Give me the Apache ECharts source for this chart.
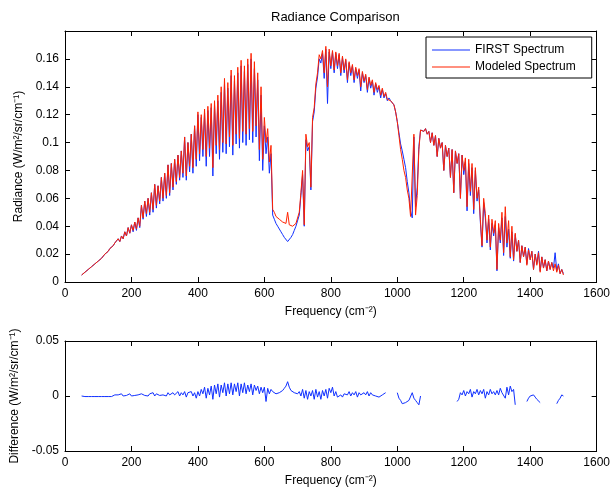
<!DOCTYPE html>
<html>
<head>
<meta charset="utf-8">
<script src="https://cdn.jsdelivr.net/npm/echarts@6/dist/echarts.min.js"></script>
<style>
html, body { margin: 0; padding: 0; background: #fff; }
#main { width: 613px; height: 493px; }
</style>
</head>
<body>
<div id="main"></div>
<script>
// frequency grid, cm^-1 (step 5)
var freq = [
    50,55,60,65,70,75,80,85,90,95,
    100,105,110,115,120,125,130,135,140,145,150,155,160,165,170,175,180,185,190,195,
    200,205,210,215,220,225,230,235,240,245,250,255,260,265,270,275,280,285,290,295,
    300,305,310,315,320,325,330,335,340,345,350,355,360,365,370,375,380,385,390,395,
    400,405,410,415,420,425,430,435,440,445,450,455,460,465,470,475,480,485,490,495,
    500,505,510,515,520,525,530,535,540,545,550,555,560,565,570,575,580,585,590,595,
    600,605,610,615,620,625,630,635,640,645,650,655,660,665,670,675,680,685,690,695,
    700,705,710,715,720,725,730,735,740,745,750,755,760,765,770,775,780,785,790,795,
    800,805,810,815,820,825,830,835,840,845,850,855,860,865,870,875,880,885,890,895,
    900,905,910,915,920,925,930,935,940,945,950,955,960,965,970,975,980,985,990,995,
    1000,1005,1010,1015,1020,1025,1030,1035,1040,1045,1050,1055,1060,1065,1070,1075,1080,1085,1090,1095,
    1100,1105,1110,1115,1120,1125,1130,1135,1140,1145,1150,1155,1160,1165,1170,1175,1180,1185,1190,1195,
    1200,1205,1210,1215,1220,1225,1230,1235,1240,1245,1250,1255,1260,1265,1270,1275,1280,1285,1290,1295,
    1300,1305,1310,1315,1320,1325,1330,1335,1340,1345,1350,1355,1360,1365,1370,1375,1380,1385,1390,1395,
    1400,1405,1410,1415,1420,1425,1430,1435,1440,1445,1450,1455,1460,1465,1470,1475,1480,1485,1490,1495,
    1500
];

// measured spectrum (FIRST)
var firstSpectrum = [
    0.005,0.006,0.007,0.008,0.009,0.010,0.011,0.012,0.013,0.014,
    0.015,0.016,0.017,0.018,0.020,0.021,0.022,0.024,0.025,0.026,0.028,0.027,0.031,0.029,0.033,0.031,0.036,0.033,0.039,0.035,
    0.041,0.036,0.043,0.037,0.046,0.039,0.055,0.045,0.058,0.047,0.060,0.048,0.064,0.050,0.070,0.053,0.069,0.056,0.075,0.058,
    0.078,0.060,0.084,0.062,0.085,0.066,0.088,0.070,0.091,0.073,0.094,0.075,0.104,0.073,0.100,0.079,0.106,0.078,0.112,0.083,
    0.120,0.087,0.118,0.090,0.121,0.083,0.123,0.090,0.125,0.076,0.127,0.092,0.130,0.088,0.136,0.093,0.142,0.092,0.139,0.097,
    0.148,0.091,0.144,0.099,0.150,0.096,0.155,0.100,0.151,0.098,0.156,0.102,0.160,0.100,0.153,0.104,0.145,0.087,0.134,0.080,
    0.112,0.092,0.104,0.078,0.092,0.048,0.045,0.042,0.040,0.038,0.036,0.034,0.032,0.031,0.029,0.030,0.032,0.034,0.037,0.040,
    0.041,0.048,0.062,0.077,0.040,0.102,0.094,0.097,0.066,0.115,0.122,0.139,0.147,0.160,0.157,0.164,0.146,0.167,0.128,0.165,
    0.153,0.165,0.150,0.164,0.153,0.163,0.148,0.161,0.150,0.159,0.143,0.157,0.148,0.155,0.143,0.153,0.146,0.152,0.137,0.150,
    0.143,0.148,0.136,0.146,0.139,0.144,0.134,0.142,0.136,0.140,0.132,0.138,0.132,0.135,0.130,0.132,0.130,0.129,0.127,0.122,
    0.115,0.107,0.099,0.094,0.088,0.082,0.072,0.064,0.051,0.046,0.104,0.054,0.068,0.097,0.109,0.110,0.108,0.110,0.106,0.108,
    0.100,0.107,0.098,0.105,0.090,0.103,0.096,0.100,0.080,0.098,0.090,0.096,0.075,0.095,0.064,0.094,0.085,0.092,0.060,0.091,
    0.077,0.086,0.051,0.085,0.062,0.082,0.049,0.080,0.058,0.066,0.043,0.025,0.057,0.046,0.028,0.045,0.023,0.042,0.033,0.041,
    0.008,0.039,0.028,0.046,0.019,0.047,0.025,0.038,0.017,0.036,0.015,0.034,0.022,0.030,0.014,0.026,0.018,0.025,0.013,0.024,
    0.016,0.022,0.009,0.020,0.013,0.022,0.008,0.018,0.010,0.016,0.008,0.015,0.009,0.014,0.010,0.021,0.008,0.013,0.006,0.009,
    0.006
];

// modeled spectrum
var modeledSpectrum = [
    0.005,0.006,0.007,0.008,0.009,0.010,0.011,0.012,0.013,0.014,
    0.015,0.016,0.017,0.018,0.020,0.021,0.022,0.024,0.025,0.026,0.028,0.027,0.031,0.029,0.033,0.031,0.036,0.033,0.039,0.035,
    0.041,0.037,0.043,0.038,0.046,0.040,0.055,0.046,0.058,0.049,0.060,0.050,0.064,0.052,0.070,0.055,0.069,0.058,0.075,0.060,
    0.078,0.062,0.084,0.064,0.085,0.068,0.088,0.072,0.091,0.075,0.094,0.078,0.104,0.076,0.100,0.083,0.106,0.082,0.112,0.088,
    0.122,0.092,0.120,0.095,0.124,0.090,0.126,0.096,0.128,0.082,0.130,0.098,0.134,0.095,0.140,0.100,0.146,0.099,0.143,0.104,
    0.152,0.098,0.148,0.106,0.154,0.103,0.159,0.108,0.155,0.106,0.160,0.110,0.164,0.108,0.158,0.112,0.150,0.095,0.140,0.088,
    0.118,0.100,0.110,0.086,0.098,0.052,0.050,0.047,0.046,0.045,0.044,0.043,0.042,0.042,0.050,0.041,0.040,0.040,0.041,0.042,
    0.043,0.050,0.064,0.080,0.041,0.106,0.097,0.100,0.068,0.118,0.125,0.142,0.150,0.163,0.160,0.166,0.150,0.169,0.140,0.167,
    0.155,0.166,0.152,0.165,0.155,0.164,0.150,0.162,0.152,0.160,0.145,0.158,0.150,0.156,0.145,0.154,0.148,0.153,0.140,0.151,
    0.144,0.149,0.138,0.147,0.141,0.145,0.136,0.143,0.138,0.141,0.134,0.139,0.133,0.136,0.131,0.132,0.130,0.129,0.127,0.122,
    0.115,0.105,0.095,0.088,0.080,0.075,0.066,0.060,0.047,0.046,0.106,0.048,0.062,0.095,0.109,0.110,0.108,0.110,0.106,0.108,
    0.100,0.107,0.098,0.105,0.090,0.103,0.096,0.100,0.080,0.098,0.090,0.096,0.075,0.095,0.064,0.094,0.085,0.092,0.060,0.091,
    0.080,0.089,0.054,0.088,0.065,0.085,0.052,0.082,0.060,0.068,0.045,0.026,0.060,0.049,0.030,0.048,0.025,0.045,0.035,0.044,
    0.009,0.042,0.030,0.050,0.021,0.054,0.028,0.044,0.018,0.040,0.016,0.035,0.022,0.030,0.014,0.026,0.018,0.025,0.012,0.023,
    0.016,0.022,0.009,0.020,0.012,0.021,0.007,0.018,0.010,0.016,0.008,0.015,0.009,0.014,0.008,0.013,0.007,0.012,0.006,0.009,
    0.005
];

// difference panel (null = no data)
var difference = [
    0,0,-0.0005,-0.0005,-0.0005,-0.0005,-0.0005,-0.0005,-0.0005,-0.0005,
    -0.0005,-0.0005,-0.0005,-0.0005,-0.0005,-0.0005,-0.0005,-0.0005,-0.0005,0,0.001,0,0.001,0.0005,0.002,0,0.001,0.0005,0.001,0.002,
    0,0.001,0.0005,0.002,0.001,0,0.002,0.001,0.0005,0.002,0,0.002,0.001,0.003,0,0.002,0.001,0.0005,0.002,0.001,
    0.002,0,0.003,0.001,0.0005,0.003,0.001,0.002,0.004,0,0.003,0.001,0.004,-0.001,0.003,0.002,0.004,0,0.003,-0.002,
    0.004,0,0.006,0.002,0.008,-0.002,0.007,0.001,0.009,-0.003,0.010,0.002,0.011,-0.001,0.010,0.003,0.012,0,0.011,0.002,
    0.012,0.001,0.011,0.004,0.012,0,0.011,0.003,0.012,0.002,0.010,0.004,0.011,0.001,0.010,0.005,0.009,0.002,0.008,0.003,
    0.008,-0.005,0.007,0.002,0.006,0.004,0.003,0.002,0.002,0.003,0.004,0.005,0.007,0.009,0.013,0.008,0.005,0.004,0.003,0.002,
    0.002,0.004,0,0.006,-0.002,0.005,-0.003,0.004,0,0.005,-0.003,0.006,-0.001,0.004,-0.003,0.005,0,0.006,-0.002,0.007,
    0.003,0.008,0,0.004,-0.001,0.0005,0.001,-0.001,0.002,0.003,0.001,0.004,0,0.003,0.001,0.004,-0.001,0.003,0.001,0.002,
    0.003,0.001,0.004,0,0.003,0.001,0.002,0,0.001,-0.001,0,0.001,0,0.003,null,null,null,null,null,null,
    0.003,-0.002,-0.004,-0.007,-0.008,-0.006,-0.007,-0.004,-0.005,0.003,-0.002,-0.004,-0.006,-0.008,0,null,null,null,null,null,
    null,null,null,null,null,null,null,null,null,null,null,null,null,null,null,null,-0.005,-0.003,0.003,0.001,
    0.005,0,0.004,0.002,0.006,-0.001,0.004,0.002,0.006,0.001,0.005,0.002,0.006,-0.002,0.004,0.001,0.006,0.002,0.004,0.001,
    0.005,0.001,0.007,0.003,0.004,-0.002,0.008,0.001,0.009,0.004,0.006,-0.008,null,null,null,null,null,null,-0.005,-0.002,
    0,0.001,0.001,-0.001,-0.003,-0.004,-0.006,null,null,null,null,null,null,null,null,null,-0.007,-0.004,-0.002,0.001,
    0
];

var radianceTicks = [0, 0.02, 0.04, 0.06, 0.08, 0.1, 0.12, 0.14, 0.16];

function pairs(ys) {
    return freq.map(function (f, i) { return [f, ys[i]]; });
}

var font = 'Liberation Sans, Arial, Helvetica, sans-serif';
var black = '#000';

function xAx(grid, pos, withLabel) {
    return {
        type: 'value', gridIndex: grid, position: pos,
        min: 0, max: 1600, interval: 200,
        name: withLabel ? 'Frequency (cm⁻²)' : '',
        nameLocation: 'middle', nameGap: 24,
        nameTextStyle: { color: black, fontSize: 12, fontFamily: font },
        axisLine: { show: true, onZero: false, lineStyle: { color: black, width: 1 } },
        axisTick: { show: true, inside: true, length: 5, lineStyle: { color: black } },
        axisLabel: {
            show: withLabel, color: black, fontSize: 12, fontFamily: font, margin: 6,
            formatter: function (v) { return String(v); }
        },
        splitLine: { show: false }
    };
}

var myChart = echarts.init(document.getElementById('main'));

var option = {
    animation: false,
    backgroundColor: '#fff',
    title: {
        text: 'Radiance Comparison',
        left: 271, top: 11, padding: 0,
        textStyle: { color: black, fontSize: 13, fontWeight: 'normal', fontFamily: font }
    },
    legend: {
        data: ['FIRST Spectrum', 'Modeled Spectrum'],
        orient: 'vertical',
        left: 426, top: 37,
        padding: [7, 16, 5, 6],
        itemGap: 5,
        itemWidth: 38, itemHeight: 1,
        icon: 'rect',
        borderColor: black, borderWidth: 1,
        backgroundColor: '#fff',
        textStyle: { color: black, fontSize: 12, fontFamily: font }
    },
    grid: [
        { left: 65, right: 13, top: 31, height: 251 },
        { left: 65, right: 13, top: 341, height: 110 }
    ],
    xAxis: [
        xAx(0, 'bottom', true),
        xAx(0, 'top', false),
        xAx(1, 'bottom', true),
        xAx(1, 'top', false)
    ],
    yAxis: [
        {
            type: 'value', gridIndex: 0, position: 'left',
            min: 0, max: 0.18, interval: 0.02,
            name: 'Radiance (W/m²/sr/cm⁻¹)',
            nameLocation: 'middle', nameGap: 40,
            nameTextStyle: { color: black, fontSize: 12, fontFamily: font },
            axisLine: { show: true, onZero: false, lineStyle: { color: black } },
            axisTick: { show: true, inside: true, length: 5, lineStyle: { color: black } },
            axisLabel: {
                color: black, fontSize: 12, fontFamily: font, margin: 6, showMaxLabel: false,
                formatter: function (v) {
                    var t = radianceTicks.find(function (k) { return Math.abs(k - v) < 1e-9; });
                    return t === undefined ? '' : String(t);
                }
            },
            splitLine: { show: false }
        },
        {
            type: 'value', gridIndex: 0, position: 'right',
            min: 0, max: 0.18, interval: 0.02,
            axisLine: { show: true, onZero: false, lineStyle: { color: black } },
            axisTick: { show: true, inside: true, length: 5, lineStyle: { color: black } },
            axisLabel: { show: false },
            splitLine: { show: false }
        },
        {
            type: 'value', gridIndex: 1, position: 'left',
            min: -0.05, max: 0.05, interval: 0.05,
            name: 'Difference (W/m²/sr/cm⁻¹)',
            nameLocation: 'middle', nameGap: 41,
            nameTextStyle: { color: black, fontSize: 12, fontFamily: font },
            axisLine: { show: true, onZero: false, lineStyle: { color: black } },
            axisTick: { show: true, inside: true, length: 5, lineStyle: { color: black } },
            axisLabel: { color: black, fontSize: 12, fontFamily: font, margin: 6 },
            splitLine: { show: false }
        },
        {
            type: 'value', gridIndex: 1, position: 'right',
            min: -0.05, max: 0.05, interval: 0.05,
            axisLine: { show: true, onZero: false, lineStyle: { color: black } },
            axisTick: { show: true, inside: true, length: 5, lineStyle: { color: black } },
            axisLabel: { show: false },
            splitLine: { show: false }
        }
    ],
    series: [
        {
            name: 'FIRST Spectrum', type: 'line',
            xAxisIndex: 0, yAxisIndex: 0,
            symbol: 'none', color: '#1030ff',
            lineStyle: { width: 1, color: '#1030ff' },
            data: pairs(firstSpectrum)
        },
        {
            name: 'Modeled Spectrum', type: 'line',
            xAxisIndex: 0, yAxisIndex: 0,
            symbol: 'none', color: '#ff2200',
            lineStyle: { width: 1, color: '#ff2200' },
            data: pairs(modeledSpectrum)
        },
        {
            name: 'Difference', type: 'line',
            xAxisIndex: 2, yAxisIndex: 2,
            symbol: 'none', connectNulls: false,
            lineStyle: { width: 1, color: '#1030ff' },
            data: pairs(difference)
        }
    ]
};

myChart.setOption(option);
</script>
</body>
</html>
